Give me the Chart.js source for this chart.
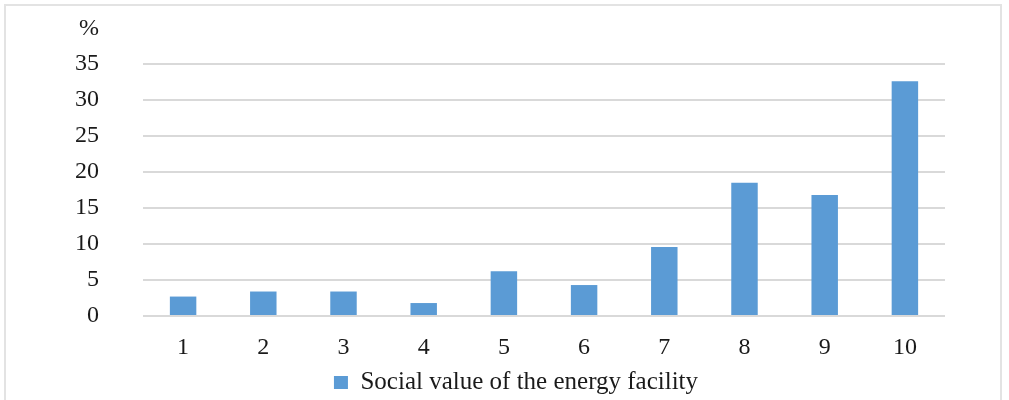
<!DOCTYPE html>
<html lang="en">
<head>
    <meta charset="UTF-8">
    <title>Social value of the energy facility</title>
    <script src="https://cdn.jsdelivr.net/npm/chart.js"></script>
    <style>
        body { margin: 0; background: #fff; }
        #frame {
            position: absolute; left: 4px; top: 4px; width: 998px; height: 420px;
            border: 2px solid #e3e3e3; box-sizing: border-box;
        }
        #wrap { position: absolute; left: 0; top: 0; width: 1009px; height: 400px; }
    </style>
</head>
<body>
    <div id="frame"></div>
    <div id="wrap"><canvas id="socialChart" width="1009" height="400"></canvas></div>

    <script>
        const categories = ['1', '2', '3', '4', '5', '6', '7', '8', '9', '10'];
        const shares = [2.7, 3.4, 3.4, 1.8, 6.2, 4.3, 9.6, 18.5, 16.8, 32.6];
        const seriesName = 'Social value of the energy facility';
        const unitLabel = '%';

        const textColor = '#1a1a1a';
        const fontFamily = '"Liberation Serif", "Times New Roman", serif';

        // draws the unit sign above the value axis
        const unitPlugin = {
            id: 'unitLabel',
            afterDraw(chart) {
                const ctx = chart.ctx;
                ctx.save();
                ctx.font = '24px ' + fontFamily;
                ctx.fillStyle = textColor;
                ctx.textAlign = 'left';
                ctx.textBaseline = 'middle';
                ctx.fillText(unitLabel, 79, 29);
                ctx.restore();
            }
        };

        // nudge the legend box right of the canvas middle and a little lower
        const legendShift = {
            id: 'legendShift',
            afterLayout(chart) {
                const lg = chart.legend;
                if (!lg) return;
                lg.left = 87;
                lg.top += 5;
                lg.bottom += 5;
            }
        };

        const ctx = document.getElementById('socialChart').getContext('2d');
        new Chart(ctx, {
            type: 'bar',
            data: {
                labels: categories,
                datasets: [{
                    label: seriesName,
                    data: shares,
                    backgroundColor: '#5b9bd5',
                    barPercentage: 0.66,
                    categoryPercentage: 0.5
                }]
            },
            options: {
                responsive: false,
                animation: false,
                layout: { padding: { top: 64, right: 64, left: 0, bottom: 0 } },
                plugins: {
                    tooltip: { enabled: false },
                    legend: {
                        position: 'bottom',
                        labels: {
                            color: textColor,
                            font: { family: fontFamily, size: 25 },
                            boxWidth: 14,
                            boxHeight: 13,
                            padding: 2
                        }
                    }
                },
                scales: {
                    x: {
                        grid: { display: false },
                        border: { display: false },
                        ticks: {
                            color: textColor,
                            font: { family: fontFamily, size: 24 },
                            padding: 9
                        },
                        afterFit(scale) { scale.height = 47; }
                    },
                    y: {
                        min: 0,
                        max: 35,
                        grid: { color: '#d9d9d9', lineWidth: 2, drawTicks: false },
                        border: { display: false },
                        ticks: {
                            stepSize: 5,
                            color: textColor,
                            font: { family: fontFamily, size: 24 },
                            padding: 44
                        },
                        afterFit(scale) { scale.width = 143; }
                    }
                }
            },
            plugins: [unitPlugin, legendShift]
        });
    </script>
</body>
</html>
